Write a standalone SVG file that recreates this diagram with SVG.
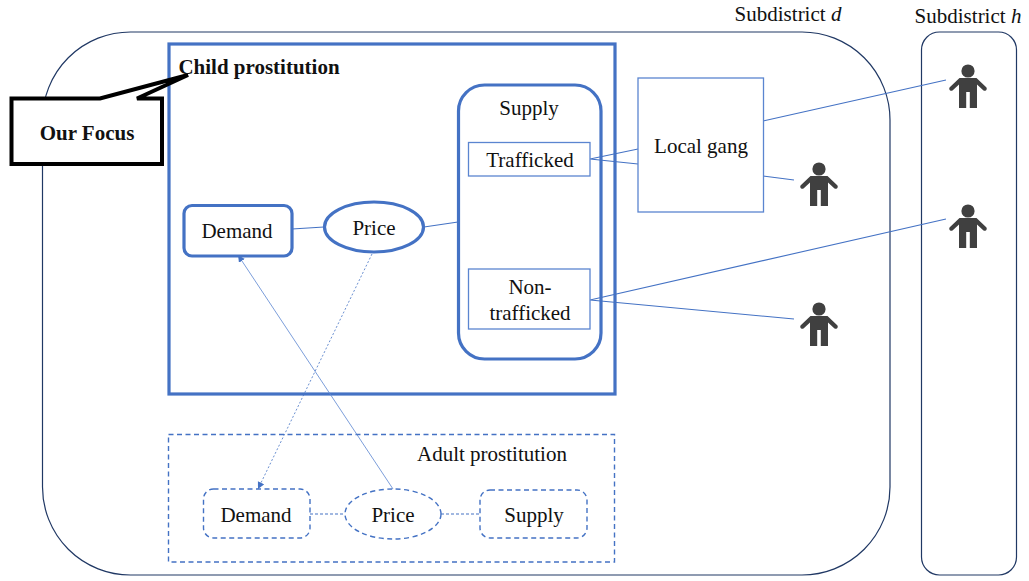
<svg xmlns="http://www.w3.org/2000/svg" xmlns:xlink="http://www.w3.org/1999/xlink" width="1029" height="581" viewBox="0 0 1029 581">
<style>
text{font-family:"Liberation Serif","Times New Roman",serif;font-size:21px;fill:#111;text-anchor:middle}
.b{font-weight:bold}
.area{fill:none;stroke:#203864;stroke-width:1.2}
.heavy{fill:#fff;stroke:#4472c4;stroke-width:3.2}
.thin{fill:#fff;stroke:#5b85d0;stroke-width:1.3}
.dash{fill:#fff;stroke:#4472c4;stroke-width:1.4;stroke-dasharray:5 3.5}
.ln{stroke:#4472c4;stroke-width:1.1;fill:none}
.ldash{stroke:#4472c4;stroke-width:1.2;fill:none;stroke-dasharray:3 2}
.arr{stroke:#5b85d0;stroke-width:.8;fill:none}
.ad{stroke:#4472c4;stroke-width:.8;fill:none;stroke-dasharray:2 2}
</style>
<defs>
<marker id="ah" markerWidth="8" markerHeight="8" refX="7" refY="3.5" orient="auto" markerUnits="userSpaceOnUse"><path d="M0 0L7 3.5L0 7z" fill="#4472c4"/></marker>
<g id="person">
<circle cx="0" cy="0" r="6.6" fill="#404040"/>
<path d="M-8.500 7H8.500L18.500 16.500A2.200 2.200 0 0 1 15.500 19.500L9 13.500V37H1.800V21H-1.800V37H-9V13.500L-15.500 19.500A2.200 2.200 0 0 1 -18.500 16.500Z" fill="#404040"/>
</g>
</defs>
<rect id="subdistrict-d" class="area" x="42.500" y="32" width="847.500" height="543" rx="88" ry="88"/>
<rect id="subdistrict-h" class="area" x="921.500" y="32" width="95" height="543" rx="18" ry="18"/>
<text x="788" y="21">Subdistrict <tspan font-style="italic">d</tspan></text>
<text x="968" y="23">Subdistrict <tspan font-style="italic">h</tspan></text>
<g id="child-prostitution-box">
<rect class="heavy" x="169" y="44" width="446" height="350"/>
</g>
<g id="adult-prostitution">
<rect class="dash" x="168.500" y="434.500" width="446" height="127.500"/>
<text x="492" y="461">Adult prostitution</text>
</g>
<g id="supply">
<rect class="heavy" x="458.500" y="85" width="142.500" height="274" rx="26" ry="26"/>
<text x="529" y="115">Supply</text>
</g>
<g id="connectors">
<path class="ln" d="M292 229L324 227M424 227L458 222M590 159L638 149M590 159L638 164M763 121L946 80M763 176L794 180M590 300L946 219M590 300L794 319"/>
<path class="ldash" d="M310 514H345M441 514H480"/>
<path class="arr" d="M393 489L238 255" marker-end="url(#ah)"/>
<path class="ad" d="M372 254L258 489" marker-end="url(#ah)"/>
</g>
<g id="trafficked">
<rect class="thin" x="468.500" y="142.500" width="121.500" height="33.500"/>
<text x="530" y="167">Trafficked</text>
</g>
<g id="non-trafficked">
<rect class="thin" x="468.500" y="269" width="121.500" height="60"/>
<text x="530" y="294">Non-</text>
<text x="530" y="320">trafficked</text>
</g>
<g id="local-gang">
<rect class="thin" x="638" y="78" width="125.500" height="134"/>
<text x="701" y="153">Local gang</text>
</g>
<g id="demand">
<rect class="heavy" x="184" y="205.500" width="108" height="50.500" rx="8" ry="8"/>
<text x="237" y="238">Demand</text>
</g>
<g id="price">
<ellipse class="heavy" cx="374" cy="227" rx="49.500" ry="25"/>
<text x="374" y="235">Price</text>
</g>
<g id="adult-demand">
<rect class="dash" x="203.500" y="489" width="106.500" height="49" rx="10" ry="10"/>
<text x="256" y="522">Demand</text>
</g>
<g id="adult-price">
<ellipse class="dash" cx="393" cy="514" rx="48" ry="25"/>
<text x="393" y="522">Price</text>
</g>
<g id="adult-supply">
<rect class="dash" x="480" y="490" width="107" height="48" rx="10" ry="10"/>
<text x="534" y="522">Supply</text>
</g>
<g id="person-1"><use xlink:href="#person" href="#person" x="968" y="71"/></g>
<g id="person-2"><use xlink:href="#person" href="#person" x="819" y="169"/></g>
<g id="person-3"><use xlink:href="#person" href="#person" x="968" y="211"/></g>
<g id="person-4"><use xlink:href="#person" href="#person" x="819" y="309"/></g>
<g id="our-focus">
<path d="M11.500 98.500H100L188 75L137 98.500H162V164H11.500Z" fill="#fff" stroke="#000" stroke-width="4"/>
<text class="b" x="87" y="140">Our Focus</text>
</g>
<g id="child-prostitution-label">
<text class="b" x="259" y="74">Child prostitution</text>
</g>
</svg>
